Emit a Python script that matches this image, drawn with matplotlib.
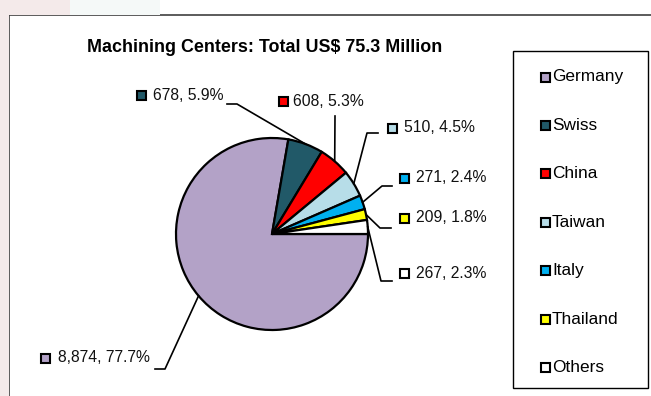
import numpy as np
import matplotlib
matplotlib.use('Agg')
import matplotlib.pyplot as plt
from matplotlib.patches import Rectangle

W, H = 651, 396

countries = ["Germany", "Swiss", "China", "Taiwan", "Italy", "Thailand", "Others"]
values = [8874, 678, 608, 510, 271, 209, 267]
colors = ["#b3a2c7", "#215968", "#ff0000", "#b7dde8", "#00b0f0", "#ffff00", "#ffffff"]
title = "Machining Centers: Total US$ 75.3 Million"

# pie geometry in pixels
CX, CY, R = 272, 234, 96

# label layout: (marker x, text x, text y, leader path in px ending at the slice)
label_layout = [
    (45, 58, 358, [(155, 369), (165, 369)]),
    (141, 153, 95, [(227, 104), (237, 104)]),
    (283, 293, 101, [(335, 116)]),
    (392, 404, 128, [(378, 133), (367, 133)]),
    (404, 416, 178, [(392, 186), (382, 186)]),
    (404, 416, 218, [(391, 228), (380, 228)]),
    (404, 416, 273, [(392, 281), (381, 281)]),
]

FONT = "Liberation Sans"


def px(x, y):
    """pixel coords (origin top-left) -> pie data coords"""
    return (x - CX) / R, (CY - y) / R


fig = plt.figure(figsize=(W / 100, H / 100), dpi=100)
fig.patch.set_facecolor('white')

# background strips around the chart frame
fig.patches.append(Rectangle((0, 0), 9 / W, 1, transform=fig.transFigure,
                             facecolor='#f4eaea', edgecolor='none', zorder=0))
fig.patches.append(Rectangle((0, 1 - 15 / H), 70 / W, 15 / H, transform=fig.transFigure,
                             facecolor='#f4eaea', edgecolor='none', zorder=0))
fig.patches.append(Rectangle((70 / W, 1 - 15 / H), 90 / W, 15 / H, transform=fig.transFigure,
                             facecolor='#f5f9f8', edgecolor='none', zorder=0))

ax = fig.add_axes([0, 0, 1, 1])
ax.patch.set_alpha(0)

wedges, _ = ax.pie(values, colors=colors, startangle=0, counterclock=False,
                   radius=1, center=(0, 0), frame=True,
                   wedgeprops=dict(edgecolor='black', linewidth=1.6))
ax.set_xlim(px(0, 0)[0], px(W, 0)[0])
ax.set_ylim(px(0, H)[1], px(0, 0)[1])
ax.set_aspect('auto')
ax.axis('off')

# chart frame (runs past the right and bottom edges)
x0, y1 = px(9, 15)
x1, y0 = px(W + 5, H + 5)
ax.add_patch(Rectangle((x0, y0), x1 - x0, y1 - y0, facecolor='none',
                       edgecolor='#404040', lw=1.2, zorder=1))

total = sum(values)
sq = 9 / R
for w, val, col, (mx, tx, ty, path) in zip(wedges, values, colors, label_layout):
    mid = np.deg2rad((w.theta1 + w.theta2) / 2)
    ex, ey = np.cos(mid), np.sin(mid)
    pts = [px(x, y) for x, y in path] + [(ex, ey)]
    xs, ys = zip(*pts)
    ax.plot(xs, ys, color='black', lw=1.2, zorder=4)
    mxd, myd = px(mx, ty)
    ax.add_patch(Rectangle((mxd - sq / 2, myd - sq / 2), sq, sq, facecolor=col,
                           edgecolor='black', lw=1.5, zorder=5))
    txd, tyd = px(tx, ty)
    ax.text(txd, tyd, f"{val:,}, {val / total * 100:.1f}%", fontsize=11.3,
            family=FONT, va='center', ha='left', color='#111111')

ax.text(*px(265, 47), title, fontsize=12.9, fontweight='bold', family=FONT,
        ha='center', va='center')

# legend box
lx0, ly1 = px(513, 51)
lx1, ly0 = px(648, 388)
ax.add_patch(Rectangle((lx0, ly0), lx1 - lx0, ly1 - ly0, facecolor='white',
                       edgecolor='black', lw=1.0, zorder=3))
for i, (name, col) in enumerate(zip(countries, colors)):
    yy = 77 + i * 48.4
    bx, by = px(541, yy)
    ax.add_patch(Rectangle((bx, by - sq / 2), sq, sq, facecolor=col,
                           edgecolor='black', lw=1.5, zorder=5))
    ax.text(*px(552, yy), name, fontsize=12.4, family=FONT, va='center',
            ha='left', zorder=6)

fig.savefig('out.png', dpi=100)
